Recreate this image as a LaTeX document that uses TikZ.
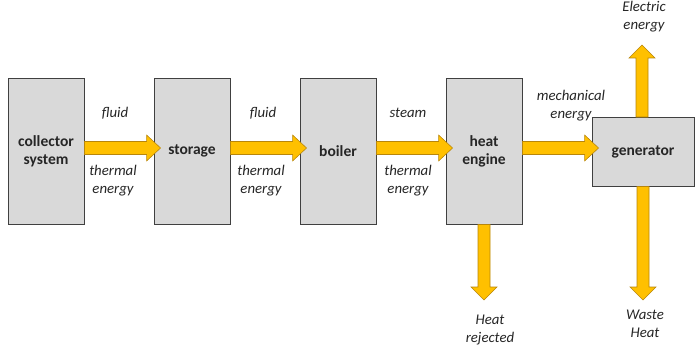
\documentclass[tikz,border=0pt]{standalone}
\usepackage{fontspec}
\setmainfont{Carlito}
\usetikzlibrary{calc}
\definecolor{boxfill}{HTML}{D9D9D9}
\definecolor{boxline}{HTML}{404040}
\definecolor{flowfill}{HTML}{FFC000}
\definecolor{flowline}{HTML}{B8860B}
\definecolor{txt}{HTML}{262626}
\tikzset{
  block/.style={draw=boxline, fill=boxfill, line width=0.9pt, inner sep=0pt, text=txt,
    font=\fontsize{15.5}{18}\selectfont\bfseries, align=center},
  tall/.style={minimum width=76pt, minimum height=146pt},
  lbl/.style={text=txt, font=\fontsize{14.8}{18}\selectfont\itshape, align=center, inner sep=0pt},
  flow/.style={fill=flowfill, draw=flowline, line width=0.6pt, line join=miter}
}
% horizontal fat arrow from #1 to #2 (tip at #2 + 7pt)
\newcommand{\hflow}[2]{\draw[flow] let \p1=(#1), \p2=(#2) in
  (\x1,\y1+6.5pt) -- (\x2-7pt,\y1+6.5pt) -- (\x2-7pt,\y1+13pt) -- (\x2+7pt,\y1)
  -- (\x2-7pt,\y1-13pt) -- (\x2-7pt,\y1-6.5pt) -- (\x1,\y1-6.5pt) -- cycle;}
% vertical fat arrow from #1 to #2 (tip at #2), any direction up/down
\newcommand{\vflow}[2]{\draw[flow] let \p1=(#1), \p2=(#2), \n1={sign(\y2-\y1)} in
  (\x1+6pt,\y1) -- (\x1+6pt,\y2-\n1*13pt) -- (\x1+13pt,\y2-\n1*13pt) -- (\x1,\y2)
  -- (\x1-13pt,\y2-\n1*13pt) -- (\x1-6pt,\y2-\n1*13pt) -- (\x1-6pt,\y1) -- cycle;}
\begin{document}
\begin{tikzpicture}[x=1pt,y=-1pt]
\useasboundingbox (0,0) rectangle (700,350);
\node[block,tall] (col) at (46,151) {collector\\system};
\node[block,tall] (sto) at (192,151) {storage};
\node[block,tall] (boi) at (338,151) {boiler};
\node[block,tall] (eng) at (484,151) {heat\\engine};
\node[block,minimum width=102pt,minimum height=69pt] (gen) at (643,151.5) {generator};
% flow connectors
\coordinate (a1s) at (col.east |- 0,148);
\coordinate (a1e) at (sto.west |- 0,148);
\coordinate (a2s) at (sto.east |- 0,148);
\coordinate (a2e) at (boi.west |- 0,148);
\coordinate (a3s) at (boi.east |- 0,148);
\coordinate (a3e) at (eng.west |- 0,148);
\coordinate (a4s) at (eng.east |- 0,148);
\coordinate (a4e) at (gen.west |- 0,148);
\hflow{a1s}{a1e}
\hflow{a2s}{a2e}
\hflow{a3s}{a3e}
\hflow{a4s}{a4e}
\coordinate (hr) at (484,300);
\coordinate (wh) at (643,300);
\coordinate (ee) at (642,45);
\vflow{eng.south}{hr}
\vflow{gen.south}{wh}
\coordinate (gtop) at (642,117);
\vflow{gtop}{ee}
% labels
\node[lbl] (l1) at (115,113) {fluid};
\node[lbl] (l2) at (113,181) {thermal\\energy};
\node[lbl] (l3) at (263,113) {fluid};
\node[lbl] (l4) at (261,181) {thermal\\energy};
\node[lbl] (l5) at (408,113) {steam};
\node[lbl] (l6) at (408,181) {thermal\\energy};
\node[lbl] (l7) at (571,106) {mechanical\\energy};
\node[lbl] (l8) at (644,17) {Electric\\energy};
\node[lbl] (l9) at (490,330) {Heat\\rejected};
\node[lbl] (l10) at (645,324) {Waste\\Heat};
\end{tikzpicture}
\end{document}
